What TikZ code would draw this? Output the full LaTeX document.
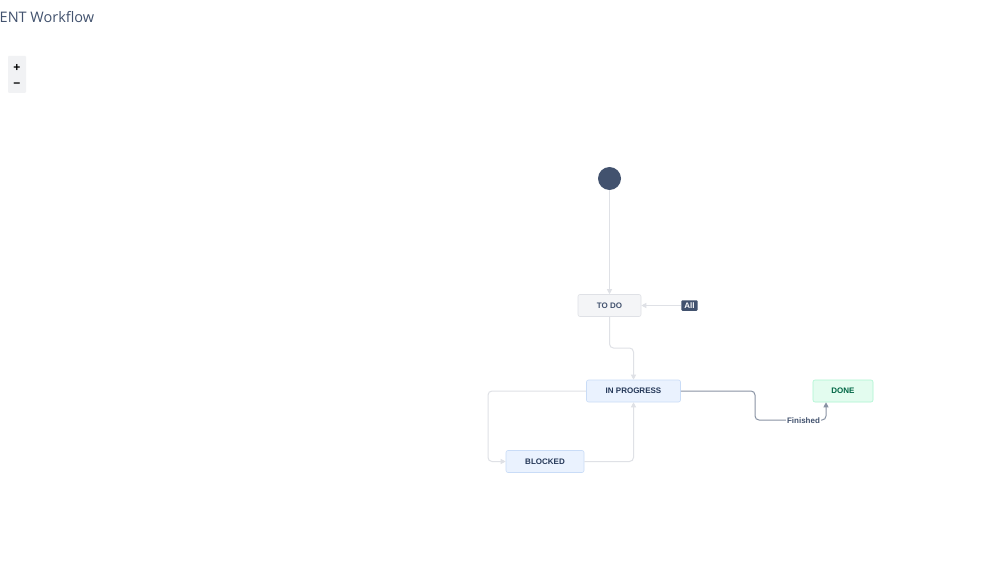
\documentclass[tikz,border=0pt]{standalone}
\usepackage{fontspec}
\setmainfont{Open Sans}
\newfontfamily\lab{Liberation Sans}
\usetikzlibrary{arrows.meta}
\definecolor{dk}{HTML}{42526E}
\definecolor{navy}{HTML}{253858}
\definecolor{lg}{HTML}{DFE1E6}
\definecolor{gbtn}{HTML}{F1F2F4}
\definecolor{todofill}{HTML}{F4F5F7}
\definecolor{ipfill}{HTML}{EAF2FE}
\definecolor{ipborder}{HTML}{C9DCF7}
\definecolor{donefill}{HTML}{E3FCEF}
\definecolor{doneborder}{HTML}{ABF5D1}
\definecolor{donetext}{HTML}{006644}
\definecolor{mid}{HTML}{8993A4}
\tikzset{
  status/.style={draw, rounded corners=2pt, line width=0.6pt, inner sep=0pt, font=\lab\fontsize{8}{9}\selectfont\bfseries, anchor=center},
  conn/.style={draw=lg, line width=1pt, rounded corners=4pt, -{Triangle[length=5pt,width=5pt]}},
  connd/.style={draw=mid, line width=1pt, rounded corners=4pt, -{Triangle[length=5pt,width=5pt]}},
}
\begin{document}
\begin{tikzpicture}[x=1pt,y=-1pt]
\useasboundingbox[fill=white] (0,0) rectangle (999,575);
% title
\node[anchor=west, text=dk, font=\fontsize{14.5}{16}\selectfont, inner sep=0pt] (title) at (-0.5,17) {ENT Workflow};
% zoom buttons
\fill[gbtn, rounded corners=1pt] (8,56) rectangle (26,93);
\node[font=\lab\fontsize{12}{13}\selectfont\bfseries, inner sep=0pt] (plus) at (17,67.5) {+};
\node[font=\lab\fontsize{12}{13}\selectfont\bfseries, inner sep=0pt] (minus) at (17,85) {−};
% start
\node[circle, fill=dk, minimum size=23pt, inner sep=0pt] (start) at (609.5,178.5) {};
% statuses
\node[status, draw=lg, fill=todofill, text=dk, minimum width=63pt, minimum height=22pt] (todo) at (609.5,305.5) {TO DO};
\node[status, draw=ipborder, fill=ipfill, text=navy, minimum width=94pt, minimum height=22pt] (ip) at (633.5,391) {IN PROGRESS};
\node[status, draw=doneborder, fill=donefill, text=donetext, minimum width=60pt, minimum height=22pt] (done) at (843,391) {DONE};
\node[status, draw=ipborder, fill=ipfill, text=navy, minimum width=78pt, minimum height=22pt] (blocked) at (545,461.5) {BLOCKED};
% all
\node[fill=dk, text=white, rounded corners=1pt, font=\lab\fontsize{8}{9}\selectfont\bfseries, inner xsep=3pt, inner ysep=0pt, minimum height=10.5pt] (all) at (689.5,305.5) {All};
% connectors
\coordinate (c1) at (609.5,348);
\coordinate (c2) at (633.5,348);
\coordinate (c3) at (488,391);
\coordinate (c4) at (488,461.5);
\coordinate (c5) at (633.5,461.5);
\draw[conn] (start.south) -- (todo.north);
\draw[conn] (all.west) -- (todo.east);
\draw[conn] (todo.south) -- (c1) -- (c2) -- (ip.north);
\draw[conn] (ip.west) -- (c3) -- (c4) -- (blocked.west);
\draw[conn] (blocked.east) -- (c5) -- (ip.south);
\coordinate (f1) at (755,391);
\coordinate (fa) at (755,420);
\coordinate (f2) at (826,420);
\node[text=dk, font=\lab\fontsize{8}{9}\selectfont\bfseries, inner xsep=1pt, inner ysep=0pt, fill=white] (fin) at (803.5,420.5) {Finished};
\draw[draw=mid, line width=1pt, rounded corners=4pt] (ip.east) -- (f1) -- (fa) -- (fin.west |- fa);
\draw[connd] (fin.east |- fa) -- (f2) -- (done.south -| f2);
\end{tikzpicture}
\end{document}
